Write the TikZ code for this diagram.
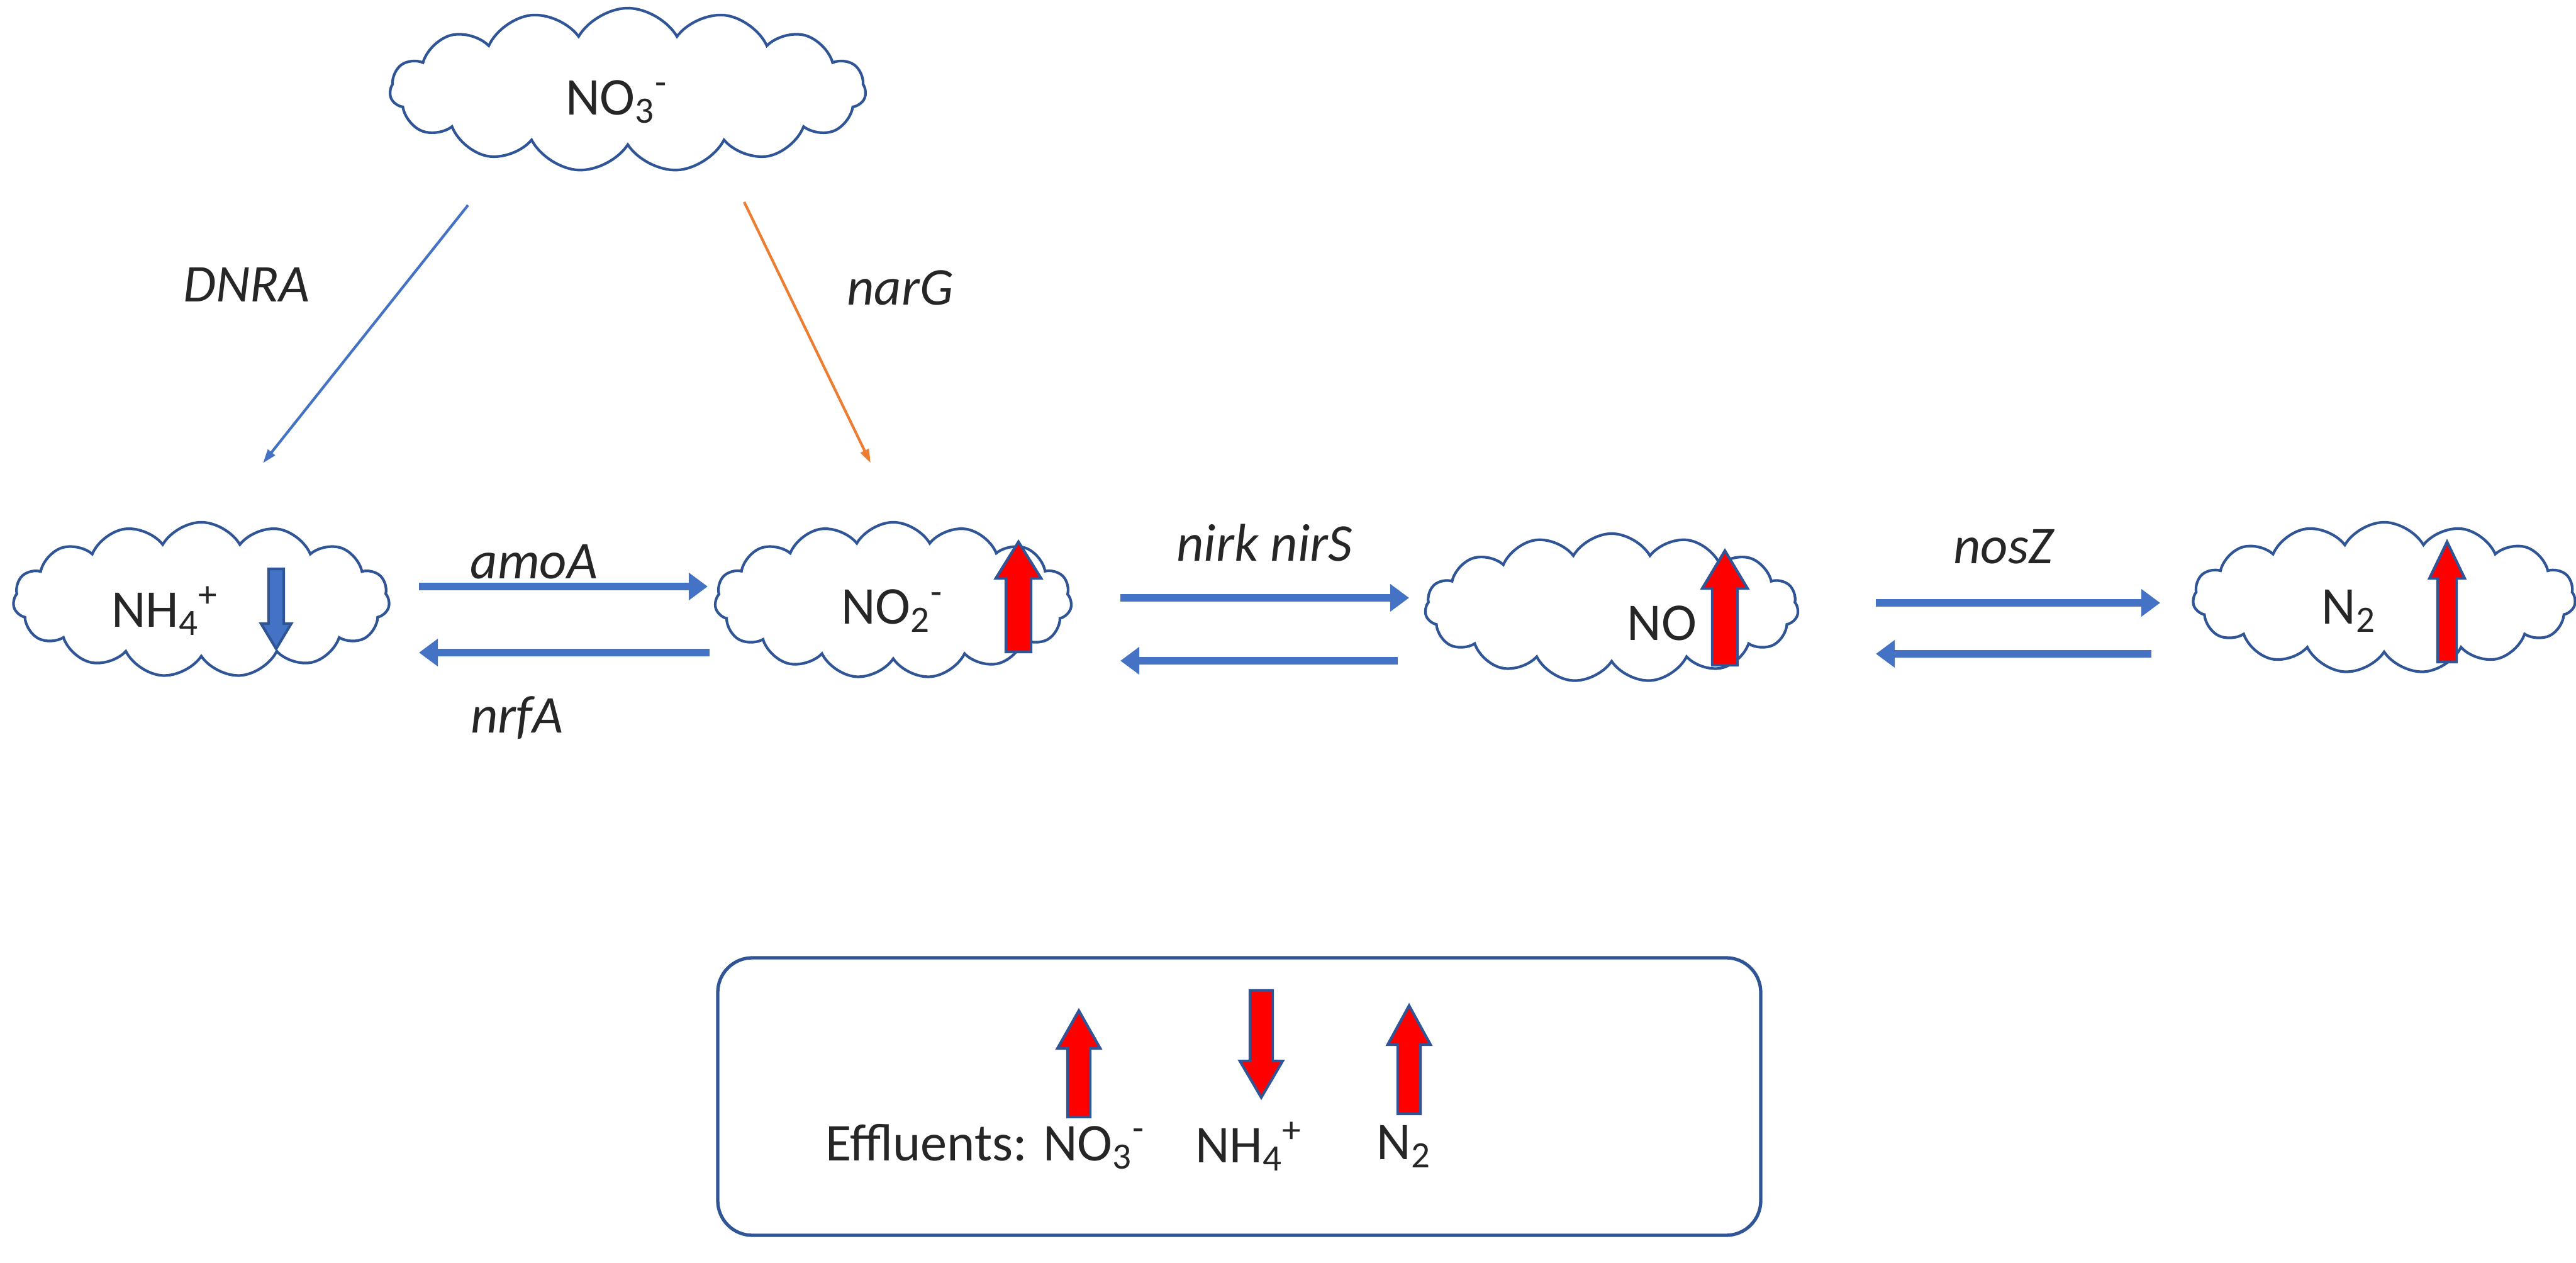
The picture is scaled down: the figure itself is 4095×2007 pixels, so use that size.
\documentclass[tikz,border=0pt]{standalone}
\usepackage{fontspec}
\setmainfont{Carlito}
\usetikzlibrary{shapes.symbols,arrows.meta}
\definecolor{ablue}{HTML}{4472C4}
\definecolor{cline}{HTML}{2F5597}
\definecolor{aorange}{HTML}{ED7D31}
% block arrow: #1 x, #2 base y, #3 tip y, #4 fill, #5 half shaft, #6 half head, #7 head length (signed toward tip)
\newcommand\blkarrow[7]{%
  \draw[draw=cline, line width=1.2pt, fill=#4, line join=miter]
    (#1-#5,#2) -- (#1-#5,#3-#7) -- (#1-#6,#3-#7) -- (#1,#3) -- (#1+#6,#3-#7) -- (#1+#5,#3-#7) -- (#1+#5,#2) -- cycle;}
\begin{document}
\begin{tikzpicture}[x=0.01cm,y=-0.01cm,
  cl/.style={cloud, cloud puffs=15, cloud puff arc=120, draw=cline, line width=1.2pt, fill=white, inner sep=0pt},
  lbl/.style={font=\fontsize{24}{28}\selectfont\itshape, text=black!85},
  chem/.style={font=\fontsize{24}{28}\selectfont, text=black!85},
  flow/.style={ablue, line width=0.12cm, -{Triangle[length=0.3cm,width=0.42cm]}},
  thin/.style={line width=1.2pt, -{Triangle[length=0.22cm,width=0.14cm]}}]
\useasboundingbox (0,0) rectangle (4095,2007);
% clouds
\node[cl, minimum width=7.56cm, minimum height=2.6cm] (c3) at (998,143) {};
\node[cl, minimum width=5.98cm, minimum height=2.46cm] (c4) at (320,953) {};
\node[cl, minimum width=5.67cm, minimum height=2.48cm] (c2) at (1420,954) {};
\node[cl, minimum width=5.93cm, minimum height=2.36cm] (cno) at (2562,966) {};
\node[cl, minimum width=6.08cm, minimum height=2.40cm] (cn2) at (3790,950) {};
% texts
\node[chem] (t3) at (980,162) {NO\textsubscript{3}\textsuperscript{-}};
\node[chem] (t4) at (262,971) {NH\textsubscript{4}\textsuperscript{+}};
\node[chem] (t2) at (1418,971) {NO\textsubscript{2}\textsuperscript{-}};
\node[chem] (tno) at (2642,990) {NO};
\node[chem] (tn2) at (3734,971) {N\textsubscript{2}};
% small level arrows
\blkarrow{439}{904}{1031}{ablue}{12}{24}{40}
\blkarrow{1619}{1036}{861}{red}{20}{36}{-58}
\blkarrow{2742}{1057}{875}{red}{20}{36}{-60}
\blkarrow{3890}{1052}{861}{red}{15}{28}{-58}
% flow coordinates
\coordinate (p1) at (666,932); \coordinate (p2) at (1125,932);
\coordinate (p3) at (1128,1037); \coordinate (p4) at (666,1037);
\coordinate (p5) at (1781,950); \coordinate (p6) at (2240,950);
\coordinate (p7) at (2222,1050); \coordinate (p8) at (1781,1050);
\coordinate (p9) at (2982,958); \coordinate (p10) at (3434,958);
\coordinate (p11) at (3420,1039); \coordinate (p12) at (2982,1039);
\draw[flow] (p1) -- (p2);
\draw[flow] (p3) -- (p4);
\draw[flow] (p5) -- (p6);
\draw[flow] (p7) -- (p8);
\draw[flow] (p9) -- (p10);
\draw[flow] (p11) -- (p12);
\node[lbl] (lamo) at (849,893) {amoA};
\node[lbl] (lnrf) at (822,1141) {nrfA};
\node[lbl] (lnir) at (2010,862) {nirk nirS};
\node[lbl] (lnos) at (3185,869) {nosZ};
% diagonal
\coordinate (d1) at (744,326); \coordinate (d2) at (418,736);
\coordinate (g1) at (1183,321); \coordinate (g2) at (1384,736);
\draw[thin, ablue] (d1) -- (d2);
\draw[thin, aorange] (g1) -- (g2);
\node[lbl] (ldnra) at (392,452) {DNRA};
\node[lbl] (lnarg) at (1431,457) {narG};
% legend
\draw[draw=cline, line width=1.5pt, rounded corners=0.55cm] (1141,1522) rectangle (2799,1963);
\blkarrow{1715}{1775}{1606}{red}{18}{34}{-60}
\blkarrow{2005}{1574}{1744}{red}{18}{34}{58}
\blkarrow{2240}{1770}{1598}{red}{18}{34}{-62}
\node[chem, anchor=west] (le) at (1300,1822) {Effluents: NO\textsubscript{3}\textsuperscript{-}};
\node[chem] (ln4) at (1985,1822) {NH\textsubscript{4}\textsuperscript{+}};
\node[chem] (ln2) at (2232,1822) {N\textsubscript{2}};
\end{tikzpicture}
\end{document}
